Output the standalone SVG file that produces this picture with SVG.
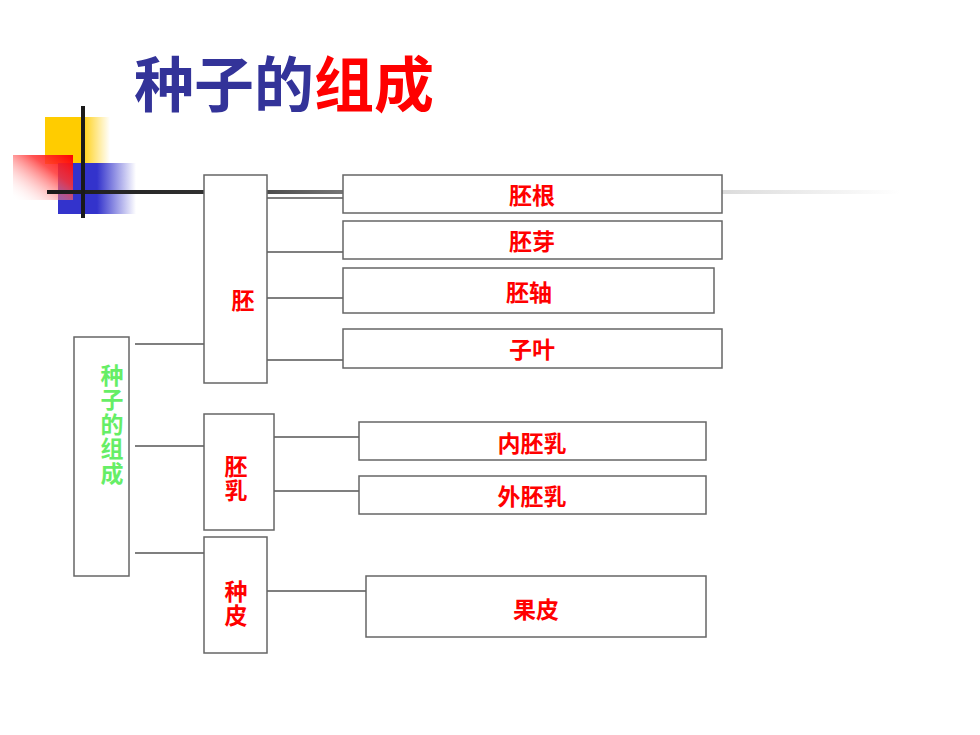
<svg xmlns="http://www.w3.org/2000/svg" width="980" height="735" viewBox="0 0 980 735">
<defs>
<linearGradient id="gY" x1="0" y1="0" x2="1" y2="0"><stop offset="0" stop-color="#FFCC00"/><stop offset="0.55" stop-color="#FFCC00"/><stop offset="1" stop-color="#FFCC00" stop-opacity="0"/></linearGradient>
<linearGradient id="gB" x1="0" y1="0" x2="1" y2="0"><stop offset="0" stop-color="#3333CC"/><stop offset="0.5" stop-color="#3333CC"/><stop offset="1" stop-color="#3333CC" stop-opacity="0"/></linearGradient>
<linearGradient id="gR" x1="1" y1="0" x2="0" y2="1"><stop offset="0" stop-color="#FF0000"/><stop offset="0.35" stop-color="#FF3333" stop-opacity="0.85"/><stop offset="1" stop-color="#FFFFFF" stop-opacity="0"/></linearGradient>
<linearGradient id="gL" gradientUnits="userSpaceOnUse" x1="47" y1="0" x2="900" y2="0"><stop offset="0" stop-color="#1a1a1a"/><stop offset="0.2" stop-color="#333"/><stop offset="0.35" stop-color="#777"/><stop offset="0.8" stop-color="#ddd"/><stop offset="1" stop-color="#fff"/></linearGradient>
</defs>
<style>
.box{fill:#fff;stroke:#666;stroke-width:1.5}
.ln{stroke:#000;stroke-width:1.2;fill:none}
.t{font-family:"Noto Sans CJK SC","Noto Sans",sans-serif;font-weight:bold;text-anchor:middle}
.v{writing-mode:vertical-rl;letter-spacing:1.5px}
.red{fill:#FF0000}
.lbl{font-size:23px}
</style>
<g id="decoration">
<rect x="45" y="117" width="65" height="47" fill="url(#gY)"/>
<rect x="58" y="163" width="78" height="51" fill="url(#gB)"/>
<rect x="13" y="155" width="60" height="45" fill="url(#gR)"/>
<line x1="47" y1="192" x2="900" y2="192" stroke="url(#gL)" stroke-width="4"/>
<line x1="83" y1="106" x2="83" y2="218" stroke="#1a1a1a" stroke-width="4"/>
</g>
<g id="title">
<text x="134" y="107" font-family="Noto Sans CJK SC, sans-serif" font-weight="bold" font-size="60" fill="#333399">种子的<tspan fill="#FF0000">组成</tspan></text>
</g>
<g id="connectors">
<line class="ln" x1="135" y1="344" x2="204" y2="344"/>
<line class="ln" x1="135" y1="446" x2="204" y2="446"/>
<line class="ln" x1="135" y1="553" x2="204" y2="553"/>
<line class="ln" x1="267" y1="198" x2="343" y2="198"/>
<line class="ln" x1="267" y1="252" x2="343" y2="252"/>
<line class="ln" x1="267" y1="298" x2="343" y2="298"/>
<line class="ln" x1="267" y1="360" x2="343" y2="360"/>
<line class="ln" x1="274" y1="437" x2="359" y2="437"/>
<line class="ln" x1="274" y1="491" x2="359" y2="491"/>
<line class="ln" x1="267" y1="591" x2="366" y2="591"/>
</g>
<g id="root">
<rect class="box" x="74" y="337" width="55" height="239"/>
<text class="t v" x="112" y="425" font-size="23" fill="#66EE66">种子的组成</text>
</g>
<g id="pei">
<rect class="box" x="204" y="175" width="63" height="208"/>
<text class="t red lbl" x="243" y="309">胚</text>
</g>
<g id="peiru">
<rect class="box" x="204" y="414" width="70" height="116"/>
<text class="t v red lbl" x="236" y="479">胚乳</text>
</g>
<g id="zhongpi">
<rect class="box" x="204" y="537" width="63" height="116"/>
<text class="t v red lbl" x="236" y="604">种皮</text>
</g>
<g id="peigen">
<rect class="box" x="343" y="175" width="379" height="38"/>
<text class="t red lbl" x="532" y="204">胚根</text>
</g>
<g id="peiya">
<rect class="box" x="343" y="221" width="379" height="38"/>
<text class="t red lbl" x="532" y="250">胚芽</text>
</g>
<g id="peizhou">
<rect class="box" x="343" y="268" width="371" height="45"/>
<text class="t red lbl" x="529" y="301">胚轴</text>
</g>
<g id="ziye">
<rect class="box" x="343" y="329" width="379" height="39"/>
<text class="t red lbl" x="532" y="358">子叶</text>
</g>
<g id="neipeiru">
<rect class="box" x="359" y="422" width="347" height="38"/>
<text class="t red lbl" x="532" y="452">内胚乳</text>
</g>
<g id="waipeiru">
<rect class="box" x="359" y="476" width="347" height="38"/>
<text class="t red lbl" x="532" y="505">外胚乳</text>
</g>
<g id="guopi">
<rect class="box" x="366" y="576" width="340" height="61"/>
<text class="t red lbl" x="536" y="618">果皮</text>
</g>
</svg>
